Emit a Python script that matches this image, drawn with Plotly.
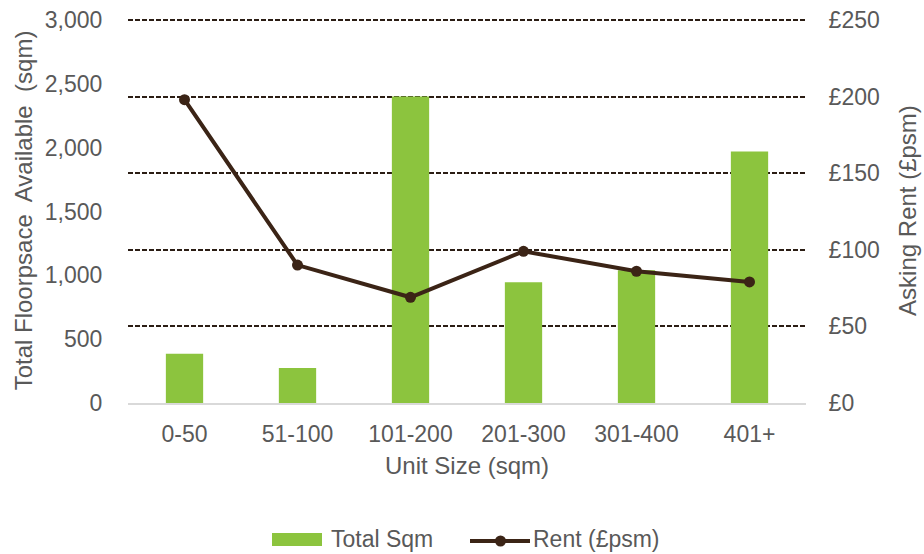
import plotly.graph_objects as go

# Unit size bands and their figures
unit_sizes = ["0-50", "51-100", "101-200", "201-300", "301-400", "401+"]
total_sqm = [386, 274, 2400, 945, 1040, 1970]
rent_psm = [198, 90, 69, 99, 86, 79]

left_ticks = [0, 500, 1000, 1500, 2000, 2500, 3000]
left_tick_text = ["0", "500", "1,000", "1,500", "2,000", "2,500", "3,000"]
right_ticks = [0, 50, 100, 150, 200, 250]
right_tick_text = ["£0", "£50", "£100", "£150", "£200", "£250"]

TEXT = "#595959"
FONT = "Liberation Sans, Arial, sans-serif"
GREEN = "#8CC43E"
BROWN = "#3B2416"
GRID = "#2B1D14"

# plot area: x 128..806, y 18..403; the top tick sits 2px under the frame so
# its gridline is still drawn
TOP, BOTTOM, LEFT, RIGHT = 18, 403, 128, 806
PLOT_H = BOTTOM - TOP
PAD = PLOT_H / (PLOT_H - 2.0)

fig = go.Figure()
fig.add_trace(go.Bar(
    x=unit_sizes, y=total_sqm, name="Total Sqm",
    marker=dict(color=GREEN, line=dict(width=0)),
    width=0.33, yaxis="y", showlegend=False,
))
fig.add_trace(go.Scatter(
    x=unit_sizes, y=rent_psm, name="Rent (£psm)", yaxis="y2",
    mode="lines+markers",
    line=dict(color=BROWN, width=4),
    marker=dict(color=BROWN, size=11),
    showlegend=False,
))

# legend drawn below the axis title: a wide bar swatch and a line-with-marker swatch
def px_x(p):
    return (p - LEFT) / float(RIGHT - LEFT)

def px_y(p):
    return (BOTTOM - p) / float(PLOT_H)

shapes = [
    dict(type="rect", xref="paper", yref="paper",
         x0=px_x(272), x1=px_x(322), y0=px_y(546), y1=px_y(533),
         fillcolor=GREEN, line=dict(width=0)),
    dict(type="line", xref="paper", yref="paper",
         x0=px_x(470), x1=px_x(530), y0=px_y(541), y1=px_y(541),
         line=dict(color=BROWN, width=4)),
    dict(type="circle", xref="paper", yref="paper",
         x0=px_x(495), x1=px_x(506), y0=px_y(546.5), y1=px_y(535.5),
         fillcolor=BROWN, line=dict(width=0)),
]
annotations = [
    dict(text="Total Sqm", xref="paper", yref="paper", x=px_x(329), y=px_y(539),
         xanchor="left", yanchor="middle", showarrow=False,
         font=dict(size=23, color=TEXT, family=FONT)),
    dict(text="Rent (£psm)", xref="paper", yref="paper", x=px_x(531), y=px_y(539),
         xanchor="left", yanchor="middle", showarrow=False,
         font=dict(size=23, color=TEXT, family=FONT)),
]

fig.update_layout(
    width=924, height=554,
    margin=dict(l=LEFT, r=924 - RIGHT, t=TOP, b=554 - BOTTOM, autoexpand=False),
    paper_bgcolor="white", plot_bgcolor="white",
    font=dict(family=FONT, size=23, color=TEXT),
    showlegend=False,
    shapes=shapes, annotations=annotations,
    xaxis=dict(
        type="category", range=[-0.5, 5.5], automargin=False,
        showgrid=False, showline=True, linecolor="#D9D9D9", linewidth=2,
        ticks="outside", ticklen=9, tickcolor="rgba(0,0,0,0)",
        tickfont=dict(size=23, color=TEXT),
        title=dict(text="Unit Size (sqm)", font=dict(size=24, color=TEXT), standoff=12),
    ),
    yaxis=dict(
        range=[0, 3000 * PAD], tickvals=left_ticks, ticktext=left_tick_text,
        automargin=False,
        showgrid=False, zeroline=False, showline=False,
        ticks="outside", ticklen=20, tickcolor="rgba(0,0,0,0)",
        tickfont=dict(size=23, color=TEXT),
        title=dict(text="Total Floorpsace  Available  (sqm)", font=dict(size=24, color=TEXT), standoff=5),
    ),
    yaxis2=dict(
        range=[0, 250 * PAD], tickvals=right_ticks, ticktext=right_tick_text,
        overlaying="y", side="right", automargin=False,
        showgrid=True, gridcolor=GRID, griddash="5px,2px", gridwidth=1.5,
        zeroline=False, showline=False,
        ticks="outside", ticklen=17, tickcolor="rgba(0,0,0,0)",
        tickfont=dict(size=23, color=TEXT),
        title=dict(text="Asking Rent (£psm)", font=dict(size=24, color=TEXT), standoff=20),
    ),
)

fig.write_html("out.html")
